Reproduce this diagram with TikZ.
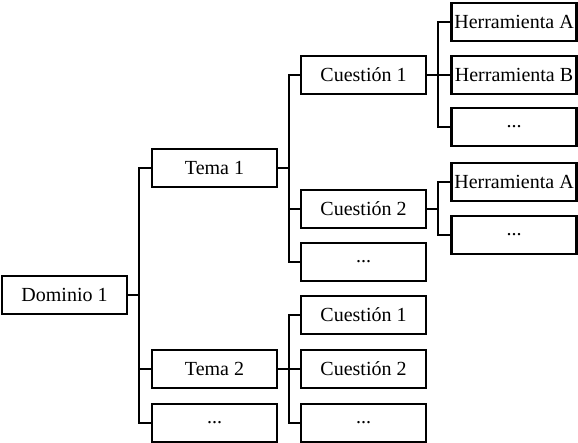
\documentclass[tikz,border=0pt]{standalone}
\usepackage{fontspec}
\setmainfont{Liberation Serif}
\usepackage{tikz}

\begin{document}
\begin{tikzpicture}[x=0.5pt, y=0.5pt, line width=1.4pt,
    every node/.style={font=\fontsize{10}{12}\selectfont},
    box/.style={draw, rectangle, minimum width=62.5pt, minimum height=19pt, inner sep=0pt}]
    \useasboundingbox (0, 0) rectangle (578, 443);

    % root
    \node[box] (dom) at (64.5, 148) {Dominio 1};

    % topics
    \node[box] (tema1) at (214.5, 275) {Tema 1};
    \node[box] (tema2) at (214.5, 74) {Tema 2};
    \node[box] (temaX) at (214.5, 20) {...};

    % questions of the first topic
    \node[box] (c11) at (363.5, 368) {Cuestión 1};
    \node[box] (c12) at (363.5, 234) {Cuestión 2};
    \node[box] (c1X) at (363.5, 181) {...};

    % questions of the second topic
    \node[box] (c21) at (363.5, 128) {Cuestión 1};
    \node[box] (c22) at (363.5, 74) {Cuestión 2};
    \node[box] (c2X) at (363.5, 20) {...};

    % tools
    \node[box] (h11) at (514, 421) {Herramienta A};
    \node[box] (h12) at (514, 368) {Herramienta B};
    \node[box] (h1X) at (514, 316) {...};
    \node[box] (h21) at (514, 261) {Herramienta A};
    \node[box] (h2X) at (514, 208) {...};

    % branch points
    \coordinate (sdom) at (139, 148);
    \coordinate (st1) at (289, 275);
    \coordinate (st2) at (289, 74);
    \coordinate (sc11) at (438, 368);
    \coordinate (sc12) at (438, 234);

    % root to topics
    \draw[] (dom.east) -- (sdom);
    \draw[] (sdom) |- (tema1.west);
    \draw[] (sdom) |- (tema2.west);
    \draw[] (sdom) |- (temaX.west);

    % topics to questions
    \draw[] (tema1.east) -- (st1);
    \draw[] (st1) |- (c11.west);
    \draw[] (st1) |- (c12.west);
    \draw[] (st1) |- (c1X.west);
    \draw[] (tema2.east) -- (st2);
    \draw[] (st2) |- (c21.west);
    \draw[] (st2) |- (c22.west);
    \draw[] (st2) |- (c2X.west);

    % questions to tools
    \draw[] (c11.east) -- (sc11);
    \draw[] (sc11) |- (h11.west);
    \draw[] (sc11) |- (h12.west);
    \draw[] (sc11) |- (h1X.west);
    \draw[] (c12.east) -- (sc12);
    \draw[] (sc12) |- (h21.west);
    \draw[] (sc12) |- (h2X.west);
\end{tikzpicture}
\end{document}
